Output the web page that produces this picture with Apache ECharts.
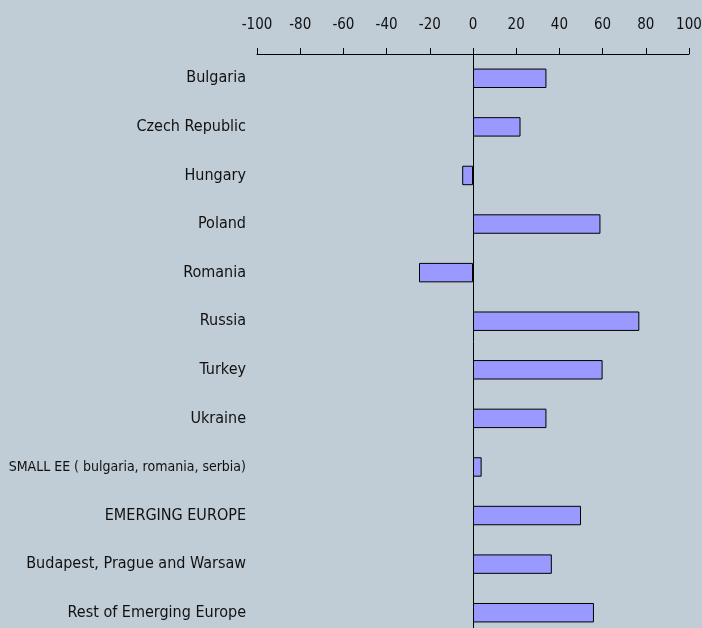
<!DOCTYPE html>
<html>
<head>
<meta charset="utf-8">
<script src="https://cdn.jsdelivr.net/npm/echarts@6/dist/echarts.min.js"></script>
<style>
  html, body { margin: 0; padding: 0; background: #C0CCD6; }
  #chart { width: 702px; height: 628px; }
</style>
</head>
<body>
<div id="chart"></div>
<script>
// Regions, listed top to bottom
const categories = [
  'Bulgaria',
  'Czech Republic',
  'Hungary',
  'Poland',
  'Romania',
  'Russia',
  'Turkey',
  'Ukraine',
  'SMALL EE ( bulgaria, romania, serbia)',
  'EMERGING EUROPE',
  'Budapest, Prague and Warsaw',
  'Rest of Emerging Europe'
];
// Values per region
const values = [34, 22, -5, 59, -25, 77, 60, 34, 4, 50, 36.5, 56];
// Value axis range
const axisMin = -100;
const axisMax = 100;
const axisStep = 20;

const FONT = "'Liberation Sans Narrow', 'Arial Narrow', 'DejaVu Sans Condensed', sans-serif";

// Long names get a slightly smaller size so they fit left of the plot
const labelFormatter = (v) => (v.length > 30 ? '{s|' + v + '}' : v);

const chart = echarts.init(document.getElementById('chart'), null, { renderer: 'canvas' });
chart.setOption({
  backgroundColor: '#C0CCD6',
  animation: false,
  grid: { left: 257, right: 13, top: 54, height: 583, containLabel: false, outerBoundsMode: 'none' },
  xAxis: {
    type: 'value',
    position: 'top',
    min: axisMin,
    max: axisMax,
    interval: axisStep,
    axisLine: { show: true, lineStyle: { color: '#000', width: 1 } },
    axisTick: { show: true, inside: false, length: 6, lineStyle: { color: '#000', width: 1 } },
    splitLine: { show: false },
    axisLabel: { margin: 21, color: '#111', fontSize: 15, fontFamily: FONT }
  },
  yAxis: {
    type: 'category',
    inverse: true,
    data: categories,
    axisLine: { show: false },
    axisTick: { show: false },
    splitLine: { show: false },
    axisLabel: {
      margin: 11, color: '#111', fontSize: 16, fontFamily: FONT,
      formatter: labelFormatter,
      rich: { s: { fontSize: 14, fontFamily: FONT, color: '#111' } }
    }
  },
  series: [{
    type: 'bar',
    data: values,
    barWidth: '40%',
    itemStyle: { color: '#9999FF', borderColor: '#000', borderWidth: 1 },
    markLine: {
      silent: true,
      symbol: 'none',
      label: { show: false },
      lineStyle: { color: '#000', width: 1, type: 'solid' },
      data: [{ xAxis: 0 }]
    }
  }]
});
</script>
</body>
</html>
